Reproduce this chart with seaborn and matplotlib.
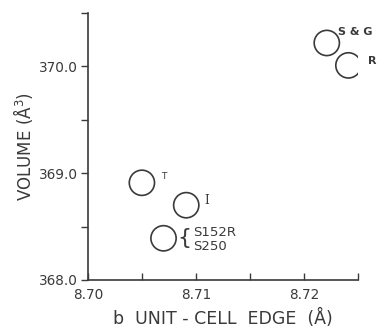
import matplotlib
matplotlib.use("Agg")
import matplotlib.pyplot as plt
import seaborn as sns
import pandas as pd
from matplotlib.ticker import MultipleLocator

sns.set_style("ticks")
plt.rcParams['font.family'] = ['DejaVu Sans']

samples = ["S & G", "R", "T", "I", "S152R/S250"]
b_edge = [8.7221, 8.7241, 8.7050, 8.7091, 8.7070]
volume = [370.22, 370.01, 368.91, 368.70, 368.39]

df = pd.DataFrame({"b": b_edge, "V": volume, "name": samples})

ink = "#3a3a3a"
fig = plt.figure(figsize=(3.77, 3.27), dpi=100)
ax = fig.add_axes([0.233, 0.144, 0.717, 0.816])

sns.scatterplot(data=df, x="b", y="V", ax=ax, marker="o", s=330,
                facecolors="none", edgecolor=ink, linewidth=1.2, legend=False)

ax.set_xlim(8.70, 8.725)
ax.set_ylim(368.0, 370.5)
ax.set_xticks([8.70, 8.71, 8.72])
ax.set_xticklabels(["8.70", "8.71", "8.72"])
ax.set_yticks([368.0, 369.0, 370.0])
ax.set_yticklabels(["368.0", "369.0", "370.0"])
ax.xaxis.set_minor_locator(MultipleLocator(0.005))
ax.yaxis.set_minor_locator(MultipleLocator(0.5))
ax.tick_params(axis="x", which="both", direction="in", length=5, width=1, colors=ink,
               labelsize=9.8, pad=6)
ax.tick_params(axis="y", which="both", direction="out", length=5, width=1, colors=ink,
               labelsize=9.8, pad=2)
for t in ax.get_xticklabels() + ax.get_yticklabels():
    t.set_color(ink)
sns.despine(ax=ax)
for sp in ["left", "bottom"]:
    ax.spines[sp].set_color(ink)
    ax.spines[sp].set_linewidth(1.2)

ax.set_xlabel("b  UNIT - CELL  EDGE  (Å)", fontsize=12.5, color=ink, labelpad=5)
ax.set_ylabel("VOLUME (Å$^3$)", fontsize=12, color=ink)
ax.yaxis.set_label_coords(-0.196, 0.5)

# point labels
lab_kw = dict(textcoords="offset points", color=ink, fontsize=8, fontweight="bold")
ax.annotate("S & G", (b_edge[0], volume[0]), xytext=(8, 6), **lab_kw)
ax.annotate("R", (b_edge[1], volume[1]), xytext=(14, 1), **lab_kw)
ax.annotate("T", (b_edge[2], volume[2]), xytext=(14, 3), color=ink, fontsize=6.5,
            textcoords="offset points")
ax.annotate("I", (b_edge[3], volume[3]), xytext=(13, 1), color=ink, fontsize=8.5,
            textcoords="offset points", family="DejaVu Serif")
ax.annotate("{", (b_edge[4], volume[4]), xytext=(20, 0), color=ink, fontsize=16,
            textcoords="offset points", ha="right", va="center")
ax.annotate("S152R\nS250", (b_edge[4], volume[4]), xytext=(21, -1), color=ink,
            fontsize=9.5, textcoords="offset points", linespacing=1.05,
            ha="left", va="center")

fig.savefig("out.png", dpi=100)
